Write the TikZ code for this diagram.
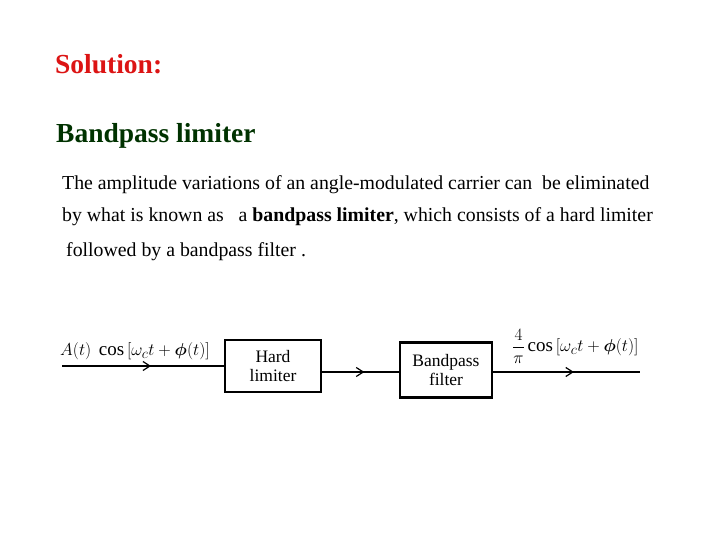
\documentclass[tikz,border=0pt]{standalone}
\usepackage{amsmath}
\usepackage{fontspec}
\setmainfont{Liberation Serif}
\usetikzlibrary{decorations.markings,arrows.meta}
\definecolor{solred}{RGB}{220,20,20}
\definecolor{dgreen}{RGB}{0,50,0}
\tikzset{
  blk/.style={draw,line width=2.2pt,minimum width=96pt,minimum height=52pt,font=\fontsize{17.5}{19}\selectfont,align=center,inner sep=0pt},
  para/.style={anchor=west,font=\fontsize{19.8}{22}\selectfont,inner sep=0pt},
  sig/.style={line width=1.2pt,postaction={decorate},decoration={markings,mark=at position 0.55 with {\arrow{Straight Barb[length=7pt,width=9pt]}}}},
  lbl/.style={anchor=south west,font=\fontsize{19}{21}\selectfont,inner sep=0pt}
}
\begin{document}
\begin{tikzpicture}[x=1pt,y=-1pt]
\useasboundingbox (0,0) rectangle (720,540);
\node[anchor=west,inner sep=0pt,text=solred,font=\fontsize{27.5}{30}\selectfont\bfseries] (sol) at (55,64) {Solution:};
\node[anchor=west,inner sep=0pt,text=dgreen,font=\fontsize{27.5}{30}\selectfont\bfseries] (bl) at (56,136) {Bandpass limiter};
\node[para] (p1) at (62,185) {The amplitude variations of an angle-modulated carrier can\ \ be eliminated};
\node[para] (p2) at (62,217) {by what is known as\ \ \ a \textbf{bandpass limiter}, which consists of a hard limiter};
\node[para] (p3) at (66,252) {followed by a bandpass filter .};
\node[blk] (hl) at (273,366) {Hard\\limiter};
\node[blk,minimum width=92pt,minimum height=55pt] (bp) at (446,370) {Bandpass\\filter};
\coordinate (in) at (62,366);
\coordinate (out) at (640,372);
\draw[sig] (in) -- (hl.west |- in);
\draw[sig] (hl.east |- 0,372) -- (bp.west |- 0,372);
\draw[sig] (bp.east |- out) -- (out);
\node[lbl] (il) at (60,360) {$A(t)\ \cos\,[\omega_c t+\boldsymbol{\phi}(t)]$};
\node[lbl] (ol) at (512,364) {$\dfrac{4}{\pi}\cos\,[\omega_c t+\boldsymbol{\phi}(t)]$};
\end{tikzpicture}
\end{document}
